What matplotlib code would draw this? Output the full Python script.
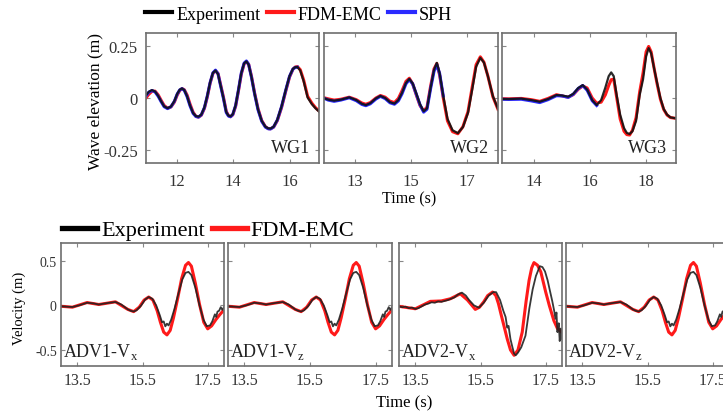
import matplotlib
matplotlib.use("Agg")
import matplotlib.pyplot as plt
from matplotlib.lines import Line2D

plt.rcParams["font.family"] = ["Liberation Serif", "DejaVu Serif"]
plt.rcParams["mathtext.fontset"] = "custom"
plt.rcParams["mathtext.rm"] = "Liberation Serif"
plt.rcParams["axes.unicode_minus"] = False

# ---- wave gauges (top row) ----
WG1_T = [10.92, 11.02, 11.13, 11.24, 11.35, 11.45, 11.56, 11.68, 11.80, 11.92,
         12.02, 12.11, 12.19, 12.27, 12.37, 12.47, 12.58, 12.68, 12.77, 12.87,
         12.98, 13.08, 13.18, 13.28, 13.37, 13.46, 13.55, 13.65, 13.75, 13.83,
         13.90, 13.98, 14.08, 14.18, 14.28, 14.38, 14.46, 14.54, 14.64, 14.75,
         14.87, 15.00, 15.13, 15.23, 15.31, 15.42, 15.55, 15.70, 15.85, 15.98,
         16.10, 16.18, 16.26, 16.36, 16.48, 16.62, 16.77, 16.90, 17.02]
WG1_EXP = [0.013, 0.030, 0.038, 0.031, 0.010, -0.015, -0.040, -0.049, -0.041, -0.015,
           0.020, 0.040, 0.046, 0.038, 0.008, -0.035, -0.072, -0.087, -0.090, -0.080,
           -0.045, 0.010, 0.075, 0.121, 0.132, 0.115, 0.060, 0.000, -0.068, -0.085,
           -0.088, -0.078, -0.035, 0.040, 0.120, 0.167, 0.176, 0.160, 0.100, 0.020,
           -0.055, -0.110, -0.138, -0.146, -0.147, -0.138, -0.105, -0.040, 0.040, 0.105,
           0.140, 0.148, 0.149, 0.132, 0.080, 0.002, -0.030, -0.050, -0.065]
WG1_FDM = [0.000, 0.018, 0.032, 0.033, 0.015, -0.010, -0.036, -0.049, -0.043, -0.020,
           0.014, 0.036, 0.045, 0.040, 0.014, -0.028, -0.068, -0.088, -0.092, -0.083,
           -0.050, 0.004, 0.070, 0.118, 0.131, 0.118, 0.065, 0.005, -0.064, -0.085,
           -0.090, -0.081, -0.040, 0.034, 0.114, 0.164, 0.175, 0.162, 0.104, 0.024,
           -0.051, -0.108, -0.138, -0.147, -0.148, -0.140, -0.109, -0.046, 0.034, 0.100,
           0.138, 0.149, 0.151, 0.136, 0.086, 0.008, -0.025, -0.047, -0.062]
WG1_SPH = [0.010, 0.028, 0.036, 0.029, 0.008, -0.017, -0.042, -0.051, -0.042, -0.016,
           0.019, 0.039, 0.045, 0.037, 0.006, -0.037, -0.074, -0.089, -0.092, -0.081,
           -0.046, 0.009, 0.074, 0.121, 0.134, 0.116, 0.059, -0.002, -0.070, -0.087,
           -0.090, -0.079, -0.036, 0.039, 0.120, 0.168, 0.178, 0.161, 0.099, 0.019,
           -0.057, -0.112, -0.140, -0.148, -0.149, -0.139, -0.106, -0.041, 0.039, 0.104,
           0.139, 0.147, 0.148]

WG2_T = [11.88, 12.05, 12.26, 12.50, 12.80, 13.05, 13.25, 13.39, 13.55, 13.75,
         13.91, 14.08, 14.25, 14.41, 14.55, 14.68, 14.82, 14.94, 15.06, 15.18,
         15.32, 15.45, 15.57, 15.70, 15.82, 15.92, 16.02, 16.15, 16.30, 16.48,
         16.67, 16.85, 17.03, 17.18, 17.32, 17.47, 17.60, 17.74, 17.92, 18.10]
WG2_EXP = [0.000, -0.008, -0.013, -0.008, 0.003, -0.010, -0.028, -0.034, -0.025, -0.002,
           0.010, 0.000, -0.020, -0.027, -0.010, 0.025, 0.072, 0.092, 0.070, 0.025,
           -0.030, -0.064, -0.050, 0.050, 0.135, 0.169, 0.120, 0.010, -0.100, -0.155,
           -0.169, -0.140, -0.072, 0.040, 0.150, 0.193, 0.170, 0.105, 0.008, -0.052]
WG2_FDM = [0.002, -0.004, -0.010, -0.006, 0.004, -0.008, -0.024, -0.030, -0.022, 0.000,
           0.012, 0.004, -0.015, -0.022, -0.002, 0.035, 0.080, 0.095, 0.068, 0.018,
           -0.036, -0.062, -0.044, 0.058, 0.140, 0.166, 0.110, 0.000, -0.110, -0.162,
           -0.172, -0.138, -0.066, 0.052, 0.160, 0.198, 0.172, 0.105, 0.005, -0.055]
WG2_SPH = [0.000, -0.010, -0.016, -0.010, 0.001, -0.013, -0.031, -0.037, -0.028, -0.005,
           0.008, -0.003, -0.023, -0.030, -0.014, 0.020, 0.068, 0.088, 0.068, 0.022,
           -0.032, -0.068, -0.054, 0.046, 0.128, 0.160, 0.118, 0.010]

WG3_T = [12.85, 13.10, 13.54, 13.90, 14.20, 14.50, 14.80, 15.00, 15.22, 15.40,
         15.58, 15.74, 15.90, 16.08, 16.24, 16.40, 16.55, 16.67, 16.76, 16.85,
         16.96, 17.08, 17.22, 17.32, 17.42, 17.52, 17.65, 17.78, 17.90, 18.01,
         18.10, 18.19, 18.30, 18.40, 18.52, 18.64, 18.76, 18.88, 19.08]
WG3_EXP = [-0.005, -0.005, -0.003, -0.010, -0.018, -0.005, 0.014, 0.012, 0.006, 0.020,
           0.048, 0.062, 0.040, -0.010, -0.034, -0.010, 0.050, 0.105, 0.123, 0.105,
           0.010, -0.080, -0.145, -0.168, -0.173, -0.160, -0.110, 0.015, 0.090, 0.200,
           0.240, 0.215, 0.140, 0.075, 0.000, -0.053, -0.080, -0.093, -0.098]
WG3_FDM = [-0.003, -0.004, -0.002, -0.008, -0.016, -0.002, 0.016, 0.010, 0.004, 0.016,
           0.042, 0.058, 0.048, 0.000, -0.025, -0.020, 0.015, 0.060, 0.088, 0.090,
           0.000, -0.100, -0.160, -0.176, -0.178, -0.155, -0.095, 0.030, 0.120, 0.222,
           0.248, 0.222, 0.140, 0.070, -0.005, -0.055, -0.082, -0.094, -0.098]
WG3_SPH = [-0.006, -0.007, -0.006, -0.014, -0.022, -0.008, 0.011, 0.010, 0.003, 0.018,
           0.046, 0.060, 0.037, -0.013, -0.036]

WG_XTICKS = [[12, 14, 16], [13, 15, 17], [14, 16, 18]]
WG_XLIMS = [(10.92, 17.02), (11.9, 18.1), (12.85, 19.08)]
WG_YTICKS = [-0.25, 0, 0.25]
WG_YTICKLABELS = ["-0.25", "0", "0.25"]
WG_NAMES = ["WG1", "WG2", "WG3"]

# ---- ADV velocities (bottom row) ----
ADV1_T = [13.00, 13.20, 13.35, 13.55, 13.80, 14.00, 14.16, 14.40, 14.67, 14.85,
          15.05, 15.15, 15.23, 15.32, 15.45, 15.58, 15.69, 15.80, 15.92, 16.03,
          16.10, 16.15, 16.20, 16.25, 16.30, 16.38, 16.48, 16.60, 16.72, 16.82,
          16.91, 17.00, 17.12, 17.25, 17.37, 17.47, 17.57, 17.64, 17.68, 17.72,
          17.76, 17.80, 17.85, 17.90, 17.95, 18.00]
ADV1_EXP = [-0.010, -0.015, -0.018, 0.000, 0.030, 0.022, 0.010, 0.025, 0.038, 0.010,
            -0.045, -0.062, -0.068, -0.055, -0.005, 0.065, 0.094, 0.075, 0.000, -0.110,
            -0.190, -0.180, -0.235, -0.205, -0.225, -0.160, -0.040, 0.130, 0.290, 0.365,
            0.376, 0.340, 0.200, 0.000, -0.160, -0.233, -0.225, -0.180, -0.140, -0.100,
            -0.130, -0.070, -0.060, -0.020, -0.050, -0.020]
ADV1_FDM_T = [13.00, 13.35, 13.80, 14.16, 14.67, 15.05, 15.23, 15.40, 15.55, 15.69,
              15.82, 15.95, 16.05, 16.15, 16.25, 16.35, 16.45, 16.58, 16.70, 16.82,
              16.91, 17.00, 17.12, 17.25, 17.38, 17.50, 17.62, 17.75, 17.88, 18.00]
ADV1_FDM = [-0.010, -0.020, 0.032, 0.010, 0.040, -0.045, -0.070, -0.020, 0.060, 0.094,
            0.060, -0.060, -0.190, -0.300, -0.331, -0.280, -0.140, 0.080, 0.300, 0.450,
            0.481, 0.440, 0.250, 0.010, -0.190, -0.263, -0.230, -0.160, -0.100, -0.050]

ADV2X_T = [12.99, 13.10, 13.20, 13.30, 13.40, 13.50, 13.60, 13.70, 13.80, 13.90,
           14.00, 14.10, 14.20, 14.30, 14.40, 14.50, 14.60, 14.70, 14.80, 14.93,
           15.05, 15.15, 15.30, 15.45, 15.60, 15.75, 15.90, 15.98, 16.10, 16.20,
           16.27, 16.32, 16.36, 16.42, 16.48, 16.53, 16.58, 16.65, 16.75, 16.88,
           17.00, 17.10, 17.20, 17.32, 17.40, 17.48, 17.56, 17.62, 17.70, 17.76,
           17.80, 17.83, 17.86, 17.90, 17.93, 17.96, 17.99]
ADV2X_EXP = [-0.010, -0.020, -0.015, -0.030, -0.025, -0.040, -0.030, -0.010, 0.010, 0.020,
             0.035, 0.030, 0.045, 0.040, 0.050, 0.060, 0.075, 0.090, 0.120, 0.143,
             0.110, 0.060, 0.000, -0.026, 0.030, 0.110, 0.150, 0.148, 0.060, -0.060,
             -0.130, -0.250, -0.230, -0.380, -0.470, -0.540, -0.560, -0.530, -0.470, -0.340,
             -0.030, 0.180, 0.330, 0.440, 0.430, 0.380, 0.280, 0.180, 0.050, -0.060,
             -0.150, -0.080, -0.300, -0.200, -0.400, -0.260, -0.376]
ADV2X_FDM_T = [12.99, 13.50, 13.96, 14.30, 14.58, 14.88, 15.10, 15.34, 15.47, 15.60,
               15.72, 15.87, 15.97, 16.05, 16.13, 16.22, 16.32, 16.42, 16.53, 16.65,
               16.78, 16.90, 16.99, 17.07, 17.14, 17.25, 17.35, 17.50, 17.61, 17.75,
               17.86, 17.99]
ADV2X_FDM = [-0.010, -0.038, 0.045, 0.050, 0.075, 0.130, 0.060, -0.045, -0.020, 0.040,
             0.110, 0.150, 0.110, 0.020, -0.100, -0.230, -0.376, -0.500, -0.560, -0.500,
             -0.300, 0.050, 0.280, 0.420, 0.480, 0.450, 0.376, 0.150, 0.000, -0.170,
             -0.260, -0.300]

ADV_XTICKS = [13.5, 15.5, 17.5]
ADV_YTICKS = [-0.5, 0, 0.5]
ADV_YTICKLABELS = ["-0.5", "0", "0.5"]
ADV_NAMES = ["ADV1-V$_\\mathregular{x}$", "ADV1-V$_\\mathregular{z}$",
             "ADV2-V$_\\mathregular{x}$", "ADV2-V$_\\mathregular{z}$"]

W, H = 723, 414
fig = plt.figure(figsize=(W / 100, H / 100), dpi=100)


def add_ax(x0, y0, x1, y1):
    return fig.add_axes([x0 / W, 1 - y1 / H, (x1 - x0) / W, (y1 - y0) / H])


def style(ax, xsize, ysize, xpad, ypad):
    for s in ax.spines.values():
        s.set_color("#6e6e6e")
        s.set_linewidth(1.2)
    ax.tick_params(direction="in", length=3, width=0.8, color="#888888", top=True, right=True,
                   labelcolor="#333333")
    ax.tick_params(axis="x", pad=xpad, labelsize=xsize)
    ax.tick_params(axis="y", pad=ypad, labelsize=ysize)


# top row
wg_data = [(WG1_T, WG1_EXP, WG1_FDM, WG1_SPH), (WG2_T, WG2_EXP, WG2_FDM, WG2_SPH),
           (WG3_T, WG3_EXP, WG3_FDM, WG3_SPH)]
top_x = [(146, 319), (324, 498), (502, 676)]
for i, (t, exp, fdm, sph) in enumerate(wg_data):
    ax = add_ax(top_x[i][0], 34, top_x[i][1], 164)
    ax.plot(t, fdm, color="#ff1a1a", lw=2.2)
    ax.plot(t[:len(sph)], sph, color="#2a2aff", lw=2.2)
    ax.plot(t, exp, color="#111111", lw=1.6, alpha=0.9)
    ax.set_xlim(*WG_XLIMS[i])
    ax.set_ylim(-0.3125, 0.3125)
    ax.set_xticks(WG_XTICKS[i])
    ax.set_yticks(WG_YTICKS)
    if i == 0:
        ax.set_yticklabels(WG_YTICKLABELS)
    else:
        ax.set_yticklabels([])
    style(ax, 12, 12, 7, 6)
    ax.text(0.95, 0.05, WG_NAMES[i], transform=ax.transAxes, ha="right", va="bottom",
            fontsize=13, color="#222222")

# bottom row
adv_data = [(ADV1_T, ADV1_EXP, ADV1_FDM_T, ADV1_FDM), (ADV1_T, ADV1_EXP, ADV1_FDM_T, ADV1_FDM),
            (ADV2X_T, ADV2X_EXP, ADV2X_FDM_T, ADV2X_FDM), (ADV1_T, ADV1_EXP, ADV1_FDM_T, ADV1_FDM)]
bot_x = [(61, 224), (228, 392), (399, 562), (566, 729)]
for i, (t, exp, tf, fdm) in enumerate(adv_data):
    ax = add_ax(bot_x[i][0], 244, bot_x[i][1], 367)
    ax.plot(tf, fdm, color="#ff1a1a", lw=2.2)
    ax.plot(t, exp, color="#222222", lw=1.3, alpha=0.9)
    ax.set_xlim(13.0, 18.0)
    ax.set_ylim(-0.68, 0.70)
    ax.set_xticks(ADV_XTICKS)
    ax.set_yticks(ADV_YTICKS)
    if i == 0:
        ax.set_yticklabels(ADV_YTICKLABELS)
    else:
        ax.set_yticklabels([])
    style(ax, 11.5, 10, 4, 3)
    ax.text(0.01, 0.04, ADV_NAMES[i], transform=ax.transAxes, ha="left", va="bottom",
            fontsize=13, color="#222222")

# axis titles
fig.text(95 / W, 1 - 101 / H, "Wave elevation (m)", rotation=90, ha="center", va="center", fontsize=12.5)
fig.text(409 / W, 1 - 199 / H, "Time (s)", ha="center", va="center", fontsize=11.5)
fig.text(19 / W, 1 - 308 / H, "Velocity (m)", rotation=90, ha="center", va="center", fontsize=10.5)
fig.text(404 / W, 1 - 403 / H, "Time (s)", ha="center", va="center", fontsize=12)

# legends
top_handles = [Line2D([], [], color="black", lw=3), Line2D([], [], color="#ff1a1a", lw=3),
               Line2D([], [], color="#2a2aff", lw=3)]
fig.legend(top_handles, ["Experiment", "FDM-EMC", "SPH"], loc="center left",
           bbox_to_anchor=(145 / W, 1 - 15 / H), ncol=3, frameon=False, fontsize=13,
           handlelength=1.5, handletextpad=0.22, columnspacing=0.35, borderpad=0, borderaxespad=0)
bot_handles = [Line2D([], [], color="black", lw=3.8), Line2D([], [], color="#ff1a1a", lw=3.8)]
fig.legend(bot_handles, ["Experiment", "FDM-EMC"], loc="center left",
           bbox_to_anchor=(62 / W, 1 - 231 / H), ncol=2, frameon=False, fontsize=16,
           handlelength=1.58, handletextpad=0.18, columnspacing=0.3, borderpad=0, borderaxespad=0)

fig.savefig("out.png", dpi=100)
